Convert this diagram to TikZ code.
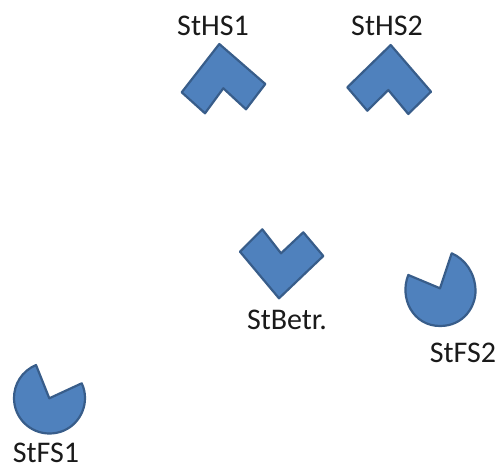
\documentclass[tikz,border=0pt]{standalone}
\usepackage{fontspec}
\setmainfont{Carlito}
\definecolor{shapefill}{HTML}{4F81BD}
\definecolor{shapeedge}{HTML}{385D8A}
\definecolor{labeltext}{HTML}{1A1A1A}
\tikzset{
  shapestyle/.style={fill=shapefill,draw=shapeedge,line width=2.2pt,line join=round},
  lab/.style={text=labeltext,font=\fontsize{30}{32}\selectfont,inner sep=0pt,anchor=center}
}
\begin{document}
\begin{tikzpicture}[x=1pt,y=-1pt]
\useasboundingbox (0,0) rectangle (497,469);
% chevrons
\draw[shapestyle] (219.3,44) -- (265.3,84) -- (246,109.3) -- (223.3,88.3) -- (205,113.3) -- (181.7,92.3) -- cycle;
\draw[shapestyle] (390.7,45) -- (431,91.7) -- (408.3,114) -- (388.3,90) -- (367.3,110.7) -- (347.3,87.3) -- cycle;
\draw[shapestyle] (240,251.7) -- (262.3,229.3) -- (281,253.3) -- (303.3,232.3) -- (323.3,256) -- (279,298.3) -- cycle;
% pies
\draw[shapestyle] (440,288.3) -- (408.3,275) .. controls (399,298) and (413,326) .. (440,326) .. controls (464,326) and (476,306) .. (475.5,290) .. controls (475,273) and (465,259) .. (451.7,253.3) -- cycle;
\draw[shapestyle] (49.3,398.3) -- (36,365) .. controls (22,371) and (14,384) .. (14,398) .. controls (14,418) and (30,433.5) .. (49.5,433.5) .. controls (70,433.5) and (85,417) .. (85,398) .. controls (85,393) and (84,388) .. (81.7,383.3) -- cycle;
% labels
\node[lab] (hs1) at (213,26) {StHS1};
\node[lab] (hs2) at (387,26) {StHS2};
\node[lab] (betr) at (287,320) {StBetr.};
\node[lab] (fs2) at (463,353) {StFS2};
\node[lab] (fs1) at (46,453) {StFS1};
\end{tikzpicture}
\end{document}
